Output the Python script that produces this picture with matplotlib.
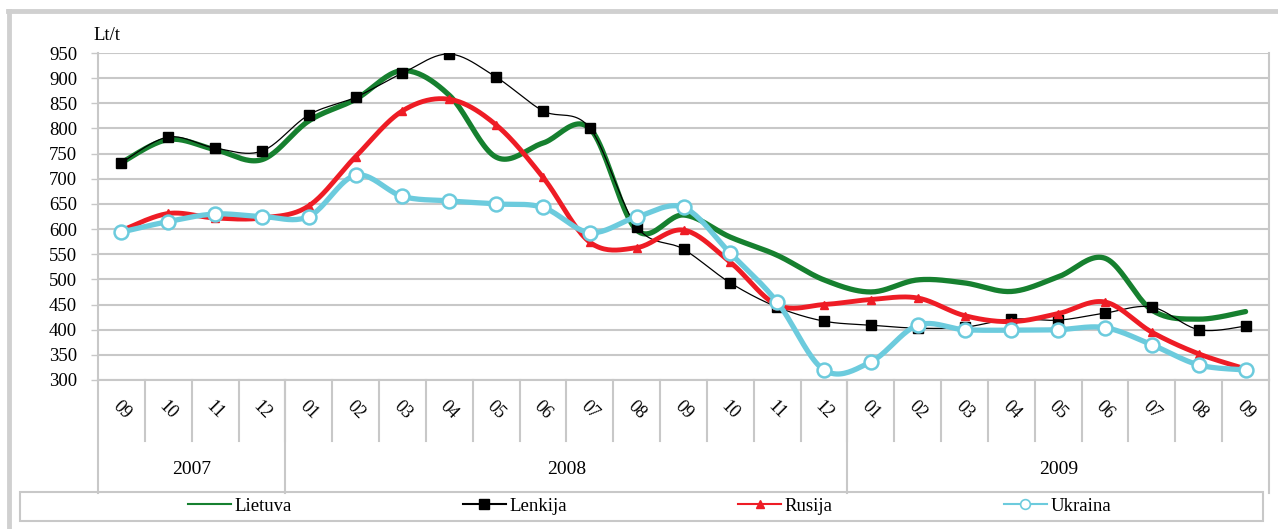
import matplotlib
matplotlib.use("Agg")
import matplotlib.pyplot as plt
import numpy as np
from matplotlib.lines import Line2D
from matplotlib.patches import Rectangle

plt.rcParams['font.family'] = ['Liberation Serif', 'DejaVu Serif']

# --- data (Lt/t, monthly 2007-09 .. 2009-09) ---
months = ["09", "10", "11", "12",
          "01", "02", "03", "04", "05", "06", "07", "08", "09", "10", "11", "12",
          "01", "02", "03", "04", "05", "06", "07", "08", "09"]
years = ["2007", "2008", "2009"]
months_per_year = [4, 12, 9]

lietuva = [732, 778, 758, 738, 815, 858, 915, 866, 743, 771, 800, 598, 628, 584, 548,
           499, 475, 499, 493, 476, 505, 542, 439, 421, 436]
lenkija = [732, 783, 761, 755, 827, 862, 910, 948, 902, 835, 801, 605, 560, 493, 445,
           417, 409, 403, 405, 421, 419, 433, 445, 400, 407]
rusija = [597, 631, 622, 622, 646, 744, 835, 858, 807, 703, 574, 563, 598, 534, 449,
          450, 460, 463, 428, 416, 432, 455, 395, 352, 322]
ukraina = [594, 615, 630, 625, 625, 707, 665, 656, 650, 643, 593, 624, 643, 552, 455,
           320, 336, 409, 400, 399, 400, 404, 370, 330, 320]

C_GREEN = "#16802f"
C_BLACK = "#000000"
C_RED = "#ee1c25"
C_CYAN = "#6ccbdd"
C_GRID = "#c8c8c8"


def smooth(y, n=24):
    # Excel-like smoothed line (Catmull-Rom -> cubic Bezier)
    p = np.column_stack([np.arange(len(y), dtype=float), np.asarray(y, dtype=float)])
    pp = np.vstack([p[0], p, p[-1]])
    t = np.linspace(0, 1, n)[:, None]
    out = []
    for i in range(len(p) - 1):
        p0, p1, p2, p3 = pp[i], pp[i + 1], pp[i + 2], pp[i + 3]
        b1 = p1 + (p2 - p0) / 6.0
        b2 = p2 - (p3 - p1) / 6.0
        seg = ((1 - t) ** 3) * p1 + 3 * ((1 - t) ** 2) * t * b1 + 3 * (1 - t) * t ** 2 * b2 + t ** 3 * p2
        out.append(seg if i == 0 else seg[1:])
    out = np.vstack(out)
    return out[:, 0], out[:, 1]


W, H = 1278, 529
fig = plt.figure(figsize=(W / 100, H / 100), dpi=100)

# plot area in pixels
L, R, T, B = 98, 1269, 53, 380
ax = fig.add_axes([L / W, 1 - B / H, (R - L) / W, (B - T) / H])
ax.set_xlim(-0.5, len(months) - 0.5)
ax.set_ylim(300, 950)
ax.set_yticks(np.arange(300, 951, 50))
ax.tick_params(axis='y', length=5, width=1, color=C_GRID, labelsize=13.5, pad=10)
ax.set_xticks([])
ax.grid(axis='y', color=C_GRID, linewidth=1.5)
ax.set_axisbelow(True)
for side in ["top", "bottom"]:
    ax.spines[side].set_visible(False)
ax.spines["left"].set_color(C_GRID)
ax.spines["left"].set_linewidth(1.5)
ax.spines["right"].set_color(C_GRID)
ax.spines["right"].set_linewidth(1.5)

x = np.arange(len(months))

sx, sy = smooth(lietuva)
ax.plot(sx, sy, color=C_GREEN, lw=3.8, solid_capstyle='round', zorder=3)

sx, sy = smooth(lenkija)
ax.plot(sx, sy, color=C_BLACK, lw=0.9, zorder=4)
ax.plot(x, lenkija, ls='none', marker='s', ms=7, color=C_BLACK, zorder=4)

sx, sy = smooth(rusija)
ax.plot(sx, sy, color=C_RED, lw=3.5, solid_capstyle='round', zorder=5)
ax.plot(x, rusija, ls='none', marker='^', ms=6, color=C_RED, zorder=5)

sx, sy = smooth(ukraina)
ax.plot(sx, sy, color=C_CYAN, lw=3.8, solid_capstyle='round', zorder=6)
ax.plot(x, ukraina, ls='none', marker='o', ms=10, mfc='white', mec=C_CYAN, mew=1.8, zorder=7)

# y-axis unit label
fig.text(93 / W, 1 - 36 / H, "Lt/t", fontsize=13.5, ha='left', va='center')

# --- category axis (months + years) below the plot ---
ph = B - T
def ay(py):
    return (B - py) / ph

xt = ax.get_xaxis_transform()
sep_kw = dict(color=C_GRID, lw=1.5, transform=xt, clip_on=False)
ax.plot([-0.5, len(months) - 0.5], [0, 0], **sep_kw)
for k in range(1, len(months)):
    ax.plot([k - 0.5, k - 0.5], [0, ay(441)], **sep_kw)
bounds = np.concatenate([[0], np.cumsum(months_per_year)]) - 0.5
for b in bounds:
    ax.plot([b, b], [0, ay(493)], **sep_kw)
for i, m in enumerate(months):
    ax.text(i, ay(410), m, transform=xt, rotation=-45, ha='center', va='center',
            fontsize=13, rotation_mode='anchor')
for j, yr in enumerate(years):
    ax.text((bounds[j] + bounds[j + 1]) / 2, ay(469), yr, transform=xt,
            ha='center', va='center', fontsize=14)

# legend box
fig.add_artist(Rectangle((20 / W, 1 - 521 / H), (1263 - 20) / W, 29 / H,
                         transform=fig.transFigure, fill=False, ec=C_GRID, lw=1.5))
handles = [
    Line2D([], [], color=C_GREEN, lw=1.5),
    Line2D([], [], color=C_BLACK, lw=1.5, marker='s', ms=7),
    Line2D([], [], color=C_RED, lw=1.5, marker='^', ms=6),
    Line2D([], [], color=C_CYAN, lw=1.5, marker='o', ms=7, mfc='white', mew=1.2),
]
fig.legend(handles, ["Lietuva", "Lenkija", "Rusija", "Ukraina"], ncol=4,
           loc='center left', bbox_to_anchor=(188 / W, 1 - 506 / H), frameon=False,
           borderpad=0, borderaxespad=0,
           fontsize=13.5, handlelength=2.3, handletextpad=0.2, columnspacing=9.1)

# outer frame of the figure
fig.add_artist(Line2D([8 / W, 1], [1 - 11 / H, 1 - 11 / H], color="#d0d0d0", lw=3.5,
                      transform=fig.transFigure))
fig.add_artist(Line2D([9 / W, 9 / W], [0, 1 - 11 / H], color="#d0d0d0", lw=3.5,
                      transform=fig.transFigure))

fig.savefig("out.png", dpi=100)
